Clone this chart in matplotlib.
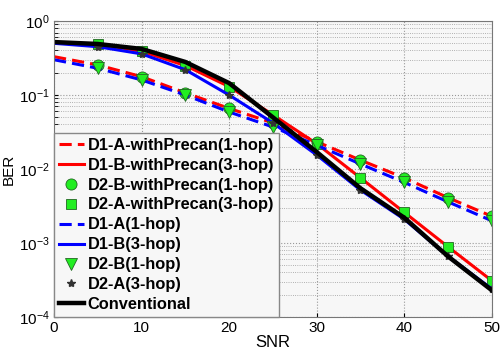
import matplotlib.pyplot as plt
import numpy as np

# SNR points
snr = [0, 5, 10, 15, 20, 25, 30, 35, 40, 45, 50]

# BER curves
d1a_pre = [0.33, 0.255, 0.177, 0.107, 0.066, 0.042, 0.0234, 0.0132, 0.0076, 0.0041, 0.0023]
d1b_pre = [0.51, 0.49, 0.39, 0.25, 0.13, 0.054, 0.022, 0.0076, 0.0026, 8.9e-4, 3.1e-4]
d2b_pre = d1a_pre
d2a_pre = d1b_pre
d1a = [0.30, 0.23, 0.16, 0.10, 0.059, 0.037, 0.021, 0.0117, 0.0066, 0.0036, 0.0020]
d1b = [0.50, 0.45, 0.36, 0.22, 0.10, 0.042, 0.0155, 0.0052, 0.0021, 6.6e-4, 2.4e-4]
d2b = d1a
d2a = d1b
conventional = [0.52, 0.49, 0.42, 0.28, 0.145, 0.05, 0.017, 0.0055, 0.0022, 6.6e-4, 2.3e-4]

plt.rcParams['font.family'] = ['Liberation Sans', 'DejaVu Sans']

fig = plt.figure(figsize=(5.02, 3.49), dpi=100)
ax = fig.add_axes([0.1076, 0.0917, 0.872, 0.848])
ax.set_facecolor('#f7f7f7')

mk = dict(markerfacecolor='#22ee22', markeredgecolor='#226622', markeredgewidth=0.6)
ax.semilogy(snr, d1a_pre, color='red', ls='--', lw=2.2, label='D1-A-withPrecan(1-hop)', dashes=(4, 2))
ax.semilogy(snr, d1b_pre, color='red', ls='-', lw=2.2, label='D1-B-withPrecan(3-hop)')
ax.semilogy(snr[1:], d2b_pre[1:], ls='none', marker='o', ms=8, label='D2-B-withPrecan(1-hop)', **mk)
ax.semilogy(snr[1:], d2a_pre[1:], ls='none', marker='s', ms=6.5, label='D2-A-withPrecan(3-hop)', **mk)
ax.semilogy(snr, d1a, color='blue', ls='--', lw=2.2, label='D1-A(1-hop)', dashes=(4, 2))
ax.semilogy(snr, d1b, color='blue', ls='-', lw=2.2, label='D1-B(3-hop)')
ax.semilogy(snr[1:], d2b[1:], ls='none', marker='v', ms=8, label='D2-B(1-hop)', **mk)
ax.semilogy(snr[1:], d2a[1:], ls='none', marker='*', ms=6, color='#333333', label='D2-A(3-hop)')
ax.semilogy(snr, conventional, color='black', ls='-', lw=3.2, label='Conventional')

ax.set_xlim(0, 50)
ax.set_ylim(1e-4, 1)
ax.set_xticks([0, 10, 20, 30, 40, 50])
ax.grid(True, which='major', color='#999999', ls=':', lw=0.8)
ax.grid(True, which='minor', color='#999999', ls=':', lw=0.6)
ax.tick_params(labelsize=11, direction='in', which='both', length=3, pad=3)
for s in ax.spines.values():
    s.set_color('#777777')
ax.set_xlabel('SNR', fontsize=12, labelpad=0)
ax.set_ylabel('BER', fontsize=11, labelpad=2)

leg = ax.legend(loc='lower left', prop={'weight': 'bold', 'size': 11.8}, handlelength=1.5,
                handletextpad=0.25, labelspacing=0.3, borderaxespad=0, borderpad=0.3,
                fancybox=False, framealpha=1, edgecolor='#888888')
leg.get_frame().set_facecolor('#f7f7f7')

fig.savefig('out.png', dpi=100)
